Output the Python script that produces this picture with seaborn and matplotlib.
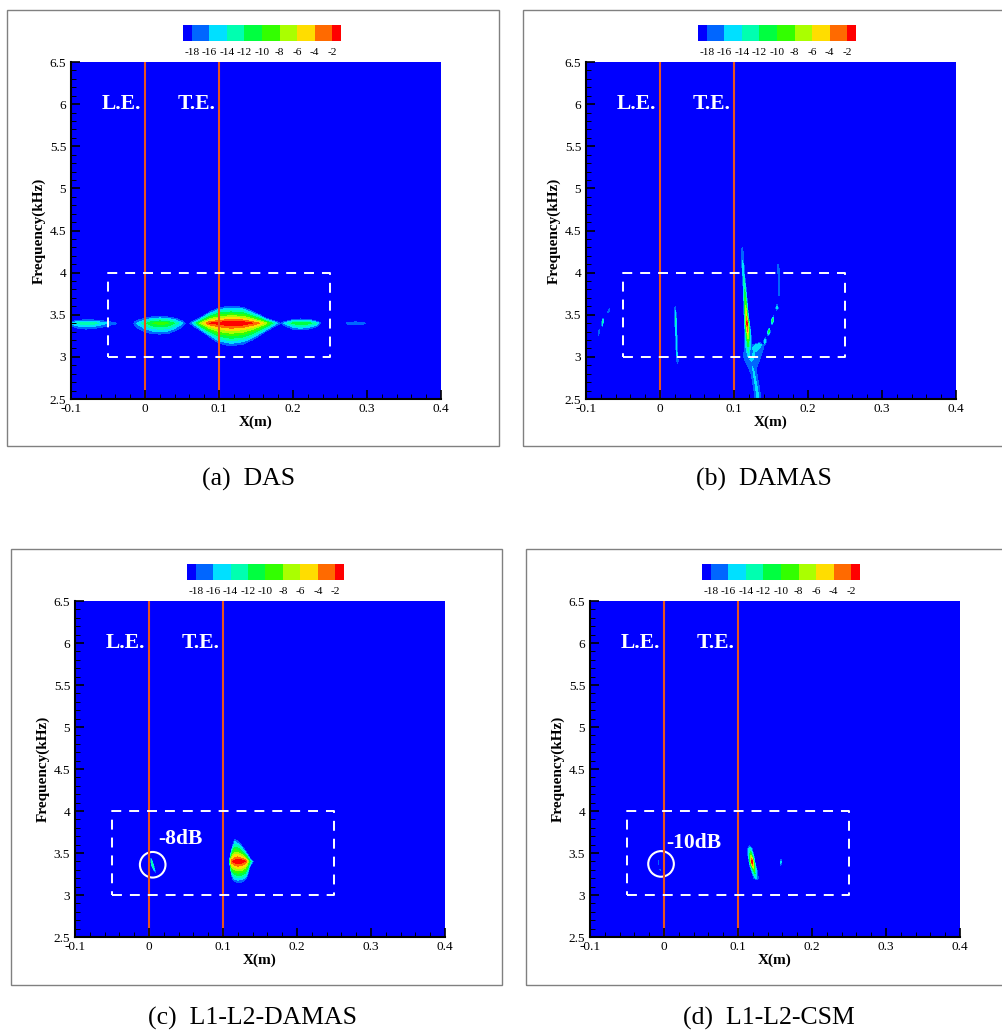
import numpy as np
import seaborn as sns
import matplotlib.pyplot as plt
from matplotlib.patches import Rectangle
from matplotlib.colors import ListedColormap

sns.set_theme(style='ticks')
plt.rcParams['font.family'] = ['Liberation Serif', 'DejaVu Serif']
plt.rcParams['axes.unicode_minus'] = False
plt.rcParams['axes.axisbelow'] = False
plt.rcParams['text.color'] = 'black'
plt.rcParams['axes.labelcolor'] = 'black'
plt.rcParams['xtick.labelcolor'] = 'black'
plt.rcParams['ytick.labelcolor'] = 'black'

W, H = 1003, 1030

# contour levels and colour scale (dB)
levels = [-18, -16, -14, -12, -10, -8, -6, -4, -2, 0]
level_colors = ['#0000ff', '#0066ff', '#00e0ff', '#00ffb0', '#00ff40',
                '#33ff00', '#aaff00', '#ffdd00', '#ff6a00', '#ff0000']
level_labels = ['-18', '-16', '-14', '-12', '-10', '-8', '-6', '-4', '-2']
cbar_db = [-18.5 + i for i in range(18)]

x_ticks = [-0.1, 0, 0.1, 0.2, 0.3, 0.4]
x_labels = ['-0.1', '0', '0.1', '0.2', '0.3', '0.4']
f_ticks = [2.5, 3, 3.5, 4, 4.5, 5, 5.5, 6, 6.5]
f_labels = ['2.5', '3', '3.5', '4', '4.5', '5', '5.5', '6', '6.5']

edge_x = [0, 0]
trail_x = [0.1, 0.1]
edge_f = [2.5, 6.5]
box_x = [-0.05, 0.25, 0.25, -0.05, -0.05]
box_f = [3, 3, 4, 4, 3]

# horizontal ridges: x, centre f, extent below, extent above, peak dB
das_left = [[-0.1, 3.4, .03, .02, -15], [-0.09, 3.4, .06, .035, -13.5], [-0.08, 3.4, .07, .04, -12.5],
            [-0.07, 3.4, .065, .038, -13], [-0.06, 3.4, .05, .03, -14.5], [-0.05, 3.4, .03, .02, -16],
            [-0.04, 3.4, .01, .005, -17.5], [-0.036, 3.4, 0, 0, -19.5]]
das_mid = [[-0.018, 3.4, 0, 0, -19.5], [-0.014, 3.4, .03, .015, -17.5], [-0.01, 3.4, .06, .035, -15.5],
           [0, 3.4, .105, .06, -12.5], [0.01, 3.4, .125, .075, -10], [0.02, 3.4, .13, .08, -9],
           [0.03, 3.4, .125, .075, -9.5], [0.04, 3.4, .095, .06, -12], [0.05, 3.4, .045, .03, -15.5],
           [0.056, 3.4, 0, 0, -19]]
das_main = [[0.058, 3.4, 0, 0, -19.5], [0.066, 3.4, .04, .032, -15], [0.074, 3.4, .08, .06, -8],
            [0.087, 3.4, .16, .13, -2], [0.10, 3.4, .24, .185, -1], [0.116, 3.4, .27, .2, 0],
            [0.132, 3.4, .25, .19, -0.5], [0.145, 3.4, .2, .14, -2], [0.155, 3.4, .145, .1, -4.2],
            [0.163, 3.4, .1, .06, -7], [0.172, 3.4, .055, .035, -12], [0.181, 3.4, .012, .006, -17.5],
            [0.186, 3.4, 0, 0, -19.5]]
das_right = [[0.18, 3.4, 0, 0, -19.5], [0.19, 3.4, .035, .022, -15], [0.20, 3.4, .07, .042, -11.5],
             [0.21, 3.4, .08, .05, -10], [0.22, 3.4, .072, .045, -11], [0.23, 3.4, .05, .03, -13],
             [0.236, 3.4, .012, .008, -17], [0.24, 3.4, 0, 0, -19.5]]
das_far = [[0.268, 3.4, 0, 0, -19.5], [0.275, 3.4, .015, .01, -17], [0.285, 3.4, .02, .015, -16],
           [0.295, 3.4, .012, .008, -17], [0.302, 3.4, 0, 0, -19.5]]

# vertical ridges: f, centre x, extent left, extent right, peak dB
damas_main = [[4.36, .111, 0, 0, -19.5], [4.25, .111, .0012, .0012, -17], [4.1, .112, .0014, .0014, -15.5],
              [3.95, .113, .0016, .0016, -14], [3.8, .1145, .002, .002, -12], [3.65, .1155, .0025, .0025, -9],
              [3.5, .1165, .003, .003, -5], [3.4, .1175, .0035, .0035, -1], [3.3, .1185, .004, .004, -4],
              [3.2, .119, .0045, .0045, -9], [3.1, .119, .0045, .0045, -13], [3.0, .12, .004, .004, -15],
              [2.97, .12, 0, 0, -19.5]]
damas_blob = [[3.18, .135, 0, 0, -19.5], [3.14, .134, .01, .006, -14], [3.1, .131, .014, .009, -14.5],
              [3.05, .127, .014, .011, -16], [3.0, .122, .009, .014, -14.5], [2.95, .124, .009, .01, -16],
              [2.88, .125, .006, .006, -16], [2.8, .127, .004, .004, -15.5], [2.7, .129, .004, .004, -15.5],
              [2.6, .131, .004, .004, -15], [2.5, .132, .004, .004, -15.5]]
damas_arc1 = [[4.14, .159, 0, 0, -19.5], [4.05, .16, .001, .001, -16.5], [3.9, .161, .001, .001, -16.5],
              [3.75, .161, .001, .001, -16.5], [3.7, .1605, 0, 0, -19.5]]
damas_arc2 = [[3.65, .1585, 0, 0, -19.5], [3.58, .158, .0015, .0015, -15], [3.53, .157, 0, 0, -19.5]]
damas_arc3 = [[3.5, .154, 0, 0, -19.5], [3.43, .152, .002, .002, -11], [3.37, .151, 0, 0, -19.5]]
damas_arc4 = [[3.35, .148, 0, 0, -19.5], [3.3, .147, .002, .002, -10], [3.24, .146, 0, 0, -19.5]]
damas_arc5 = [[3.24, .143, 0, 0, -19.5], [3.19, .142, .002, .002, -14], [3.12, .141, 0, 0, -19.5]]
damas_le = [[3.63, .0205, 0, 0, -19.5], [3.55, .0205, .001, .001, -16], [3.45, .021, .0012, .0012, -13],
            [3.35, .0215, .0012, .0012, -14.5], [3.25, .022, .001, .001, -15], [3.1, .0225, .001, .001, -15],
            [2.95, .0235, .001, .001, -16.5], [2.9, .024, 0, 0, -19.5]]
damas_up1 = [[3.6, -.0685, 0, 0, -19.5], [3.55, -.069, .0008, .0008, -17], [3.5, -.0725, 0, 0, -19.5]]
damas_up2 = [[3.47, -.0765, 0, 0, -19.5], [3.41, -.0775, .0012, .0012, -12], [3.35, -.0785, 0, 0, -19.5]]
damas_up3 = [[3.36, -.081, 0, 0, -19.5], [3.3, -.0825, .0008, .0008, -16.5], [3.2, -.0845, 0, 0, -19.5]]

l1_main = [[.1085, 3.4, 0, 0, -19.5], [.11, 3.4, .09, .08, -5], [.1125, 3.4, .2, .17, -2],
           [.116, 3.4, .24, .265, -1], [.12, 3.4, .25, .24, 0], [.125, 3.4, .25, .19, -0.5],
           [.13, 3.4, .22, .13, -2], [.133, 3.4, .17, .09, -5.5], [.136, 3.4, .07, .04, -11],
           [.14, 3.4, .01, .008, -16.5], [.142, 3.4, 0, 0, -19.5]]
l1_le = [[3.45, .0025, 0, 0, -19.5], [3.4, .0035, .001, .001, -13], [3.35, .005, .0012, .0012, -12],
         [3.3, .007, .001, .001, -15], [3.26, .009, 0, 0, -19.5]]

csm_main = [[3.6, .1155, 0, 0, -19.5], [3.55, .116, .003, .003, -14], [3.47, .1175, .004, .004, -8],
            [3.42, .1185, .004, .004, -2.5], [3.39, .119, .004, .004, 0], [3.35, .12, .004, .004, -4],
            [3.3, .1215, .004, .004, -9], [3.25, .123, .0035, .0035, -12], [3.2, .1245, .003, .003, -15],
            [3.17, .125, 0, 0, -19.5]]
csm_far = [[3.44, .158, 0, 0, -19.5], [3.39, .158, .001, .001, -15], [3.34, .158, 0, 0, -19.5]]
csm_le1 = [[3.43, -.0075, 0, 0, -19.5], [3.39, -.0075, .0006, .0006, -16], [3.35, -.0075, 0, 0, -19.5]]
csm_le2 = [[3.32, -.0052, 0, 0, -19.5], [3.3, -.005, .0005, .0005, -17.5], [3.28, -.0048, 0, 0, -19.5]]

panels = [
    {'frame': (7.5, 10, 499.5, 446), 'axes': (71, 62, 441, 399), 'bar': (183, 25, 341, 41),
     'caption': ('(a)  DAS', 249, 479), 'h': [das_left, das_mid, das_main, das_right, das_far], 'v': []},
    {'frame': (522.5, 10, 1010, 446), 'axes': (586, 62, 956, 399), 'bar': (698, 25, 856, 41),
     'caption': ('(b)  DAMAS', 764, 479), 'h': [],
     'v': [damas_blob, damas_main, damas_arc1, damas_arc2, damas_arc3, damas_arc4, damas_arc5,
           damas_le, damas_up1, damas_up2, damas_up3]},
    {'frame': (11.5, 548.5, 502.5, 985), 'axes': (75, 601, 445, 937), 'bar': (187, 564, 344, 580),
     'caption': ('(c)  L1-L2-DAMAS', 253, 1018), 'h': [l1_main], 'v': [l1_le],
     'note': ('-8dB', 0.0426, 3.67), 'circle': (0.005, 3.36)},
    {'frame': (526.5, 548.5, 1010, 985), 'axes': (590, 601, 960, 937), 'bar': (702, 564, 860, 580),
     'caption': ('(d)  L1-L2-CSM', 769, 1018), 'h': [], 'v': [csm_main, csm_far, csm_le1, csm_le2],
     'note': ('-10dB', 0.04, 3.62), 'circle': (-0.004, 3.37)},
]


def add_axes_px(fig, box):
    left, top, right, bottom = box
    return fig.add_axes([left / W, 1 - bottom / H, (right - left) / W, (bottom - top) / H])


def draw_ridge(ax, rows, horizontal):
    # each station gives the crest and where the -18 dB contour lies either side
    s, c, a, b, p = np.array(rows).T
    across = np.column_stack([c - a, c, c + b])
    along = np.column_stack([s, s, s])
    z = np.column_stack([np.full_like(p, -18.05), p, np.full_like(p, -18.05)])
    if horizontal:
        ax.contourf(along, across, z, levels=levels, colors=level_colors[1:])
    else:
        ax.contourf(across, along, z, levels=levels, colors=level_colors[1:])


fig = plt.figure(figsize=(W / 100, H / 100), dpi=100)

for panel in panels:
    l, t, r, b = panel['frame']
    fig.add_artist(Rectangle((l / W, 1 - b / H), (r - l) / W, (b - t) / H, transform=fig.transFigure,
                             fill=False, edgecolor='#808080', linewidth=1.0))

    ax = add_axes_px(fig, panel['axes'])
    ax.set_facecolor(level_colors[0])
    for rows in panel['h']:
        draw_ridge(ax, rows, True)
    for rows in panel['v']:
        draw_ridge(ax, rows, False)

    for line_x in (edge_x, trail_x):
        sns.lineplot(x=line_x, y=edge_f, ax=ax, color='#e8541e', linewidth=1.5, estimator=None, sort=False)
    sns.lineplot(x=box_x, y=box_f, ax=ax, color='white', linewidth=1.4, estimator=None, sort=False,
                 linestyle=(0, (5.1, 4.1)))

    ax.set_xlim(-0.1, 0.4)
    ax.set_ylim(2.5, 6.5)
    ax.set_xticks(x_ticks, x_labels)
    ax.set_yticks(f_ticks, f_labels)
    ax.set_xticks(np.arange(-0.1, 0.4001, 0.02), minor=True)
    ax.set_yticks(np.arange(2.5, 6.5001, 0.1), minor=True)
    ax.tick_params(which='major', direction='in', length=6.5, width=1.2, color='black', labelsize=9.5)
    ax.tick_params(which='minor', direction='in', length=3.6, width=0.7, color='black')
    ax.tick_params(axis='x', which='major', pad=3)
    ax.tick_params(axis='y', which='major', pad=3.5)
    ax.set_xlabel('X(m)', fontsize=11, fontweight='bold', labelpad=0.5)
    ax.set_ylabel('Frequency(kHz)', fontsize=11, fontweight='bold', labelpad=2.5)
    for side in ('top', 'right'):
        ax.spines[side].set_visible(False)
    for side in ('left', 'bottom'):
        ax.spines[side].set_linewidth(1.5)
        ax.spines[side].set_color('black')

    ax.text(-0.032, 6.0, 'L.E.', color='white', fontsize=15.5, fontweight='bold', ha='center', va='center')
    ax.text(0.07, 6.0, 'T.E.', color='white', fontsize=15.5, fontweight='bold', ha='center', va='center')
    if 'note' in panel:
        text, nx, nf = panel['note']
        ax.text(nx, nf, text, color='white', fontsize=15.5, fontweight='bold', ha='center', va='center')
        cx, cf = panel['circle']
        sns.scatterplot(x=[cx], y=[cf], ax=ax, s=340, facecolors='none', edgecolor='white', linewidth=1.5,
                        legend=False)

    cax = add_axes_px(fig, panel['bar'])
    sns.heatmap([cbar_db], ax=cax, cmap=ListedColormap(list(np.repeat(level_colors, 2)[1:-1])),
                vmin=-19, vmax=-1, cbar=False, xticklabels=False, yticklabels=False)
    cax.set_xticks(range(1, 18, 2), level_labels)
    cax.tick_params(axis='x', length=0, labelsize=8.2, pad=5, rotation=0)
    cax.tick_params(axis='y', length=0)
    cax.set_xlabel('')
    cax.set_ylabel('')

    text, cx, cy = panel['caption']
    fig.text(cx / W, 1 - cy / H, text, fontsize=18.5, ha='center', va='center', color='black')

fig.savefig('out.png', dpi=100)
